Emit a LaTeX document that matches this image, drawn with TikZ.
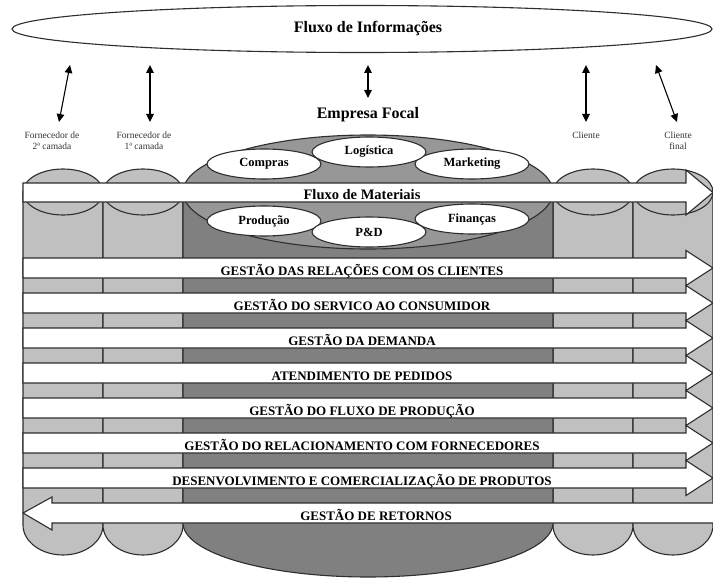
\documentclass[tikz,border=0pt]{standalone}
\usepackage{fontspec}
\setmainfont{Liberation Serif}
\usetikzlibrary{arrows.meta,shapes.geometric}
\definecolor{colgray}{HTML}{C0C0C0}
\definecolor{focalgray}{HTML}{808080}
\definecolor{capgray}{HTML}{979797}
\definecolor{edge}{HTML}{2E2E2E}

\begin{document}
\begin{tikzpicture}[x=1pt,y=-1pt,line width=1.1pt,
  cyl/.style={draw=edge,fill=colgray},
  focalcyl/.style={draw=edge,fill=focalgray},
  focalcap/.style={draw=edge,fill=capgray},
  band/.style={draw=edge,fill=white},
  bandtext/.style={anchor=base,font=\bfseries\fontsize{13}{15}\selectfont},
  area/.style={ellipse,draw=edge,fill=white,minimum width=114pt,minimum height=30pt,inner sep=0pt,font=\bfseries\fontsize{12.5}{14}\selectfont},
  tier/.style={align=center,text=black!80,font=\fontsize{9.5}{11}\selectfont},
  infoarrow/.style={{Triangle[length=8pt,width=7.5pt]}-{Triangle[length=8pt,width=7.5pt]},draw=black}]
\useasboundingbox (0,0) rectangle (713,578);

% fluxo de informacoes
\node[ellipse,draw=edge,fill=white,minimum width=700pt,minimum height=47pt,inner sep=0pt,
  font=\bfseries\fontsize{16}{18}\selectfont] (info) at (362,29) {\hspace*{12pt}Fluxo de Informações};

\coordinate (f2a) at (70,65);  \coordinate (f2b) at (59,122);
\coordinate (f1a) at (150,65); \coordinate (f1b) at (150,122);
\coordinate (ema) at (368,65); \coordinate (emb) at (368,98);
\coordinate (cla) at (586,65); \coordinate (clb) at (586,122);
\coordinate (cfa) at (656,65); \coordinate (cfb) at (677,122);
\foreach \a/\b in {f2a/f2b,f1a/f1b,ema/emb,cla/clb,cfa/cfb}
  \draw[infoarrow] (\a) -- (\b);

\node[tier] (forn2) at (52,140.5) {Fornecedor de\\2ª camada};
\node[tier] (forn1) at (144,140.5) {Fornecedor de\\1ª camada};
\node[tier] (cli) at (586,135) {Cliente};
\node[tier] (clifin) at (678,140.5) {Cliente\\final};
\node[font=\bfseries\fontsize{16}{18}\selectfont] (focal) at (368,115) {Empresa Focal};

% cilindros
\foreach \xa in {23,103,553,633}{
  \draw[cyl] (\xa,192) -- (\xa,525) arc[start angle=180,end angle=0,x radius=40,y radius=30] -- (\xa+80,192) -- cycle;
  \draw[cyl] (\xa+40,192) ellipse[x radius=40,y radius=23];
}
\draw[focalcyl] (183,192) -- (183,523) arc[start angle=180,end angle=0,x radius=185,y radius=54] -- (553,192) -- cycle;
\draw[focalcap] (368,192) ellipse[x radius=185,y radius=57];

\node[area] (compras) at (264,164) {Compras};
\node[area] (mkt) at (472,164) {Marketing};
\node[area] (log) at (369,152) {Logística};
\node[area] (prod) at (264,221) {Produção};
\node[area] (fin) at (472,219) {Finanças};
\node[area] (pd) at (369,232) {P\&D};

% setas de processos
\draw[band] (23,183) -- (686,183) -- (686,170) -- (713,192.5) -- (686,215) -- (686,202) -- (23,202) -- cycle;
\foreach \t in {258,293,...,468}
  \draw[band] (23,\t) -- (686,\t) -- (686,\t-7.5) -- (713,\t+10) -- (686,\t+27.5) -- (686,\t+20) -- (23,\t+20) -- cycle;
\draw[band] (713,503) -- (52,503) -- (52,497) -- (23,513) -- (52,530) -- (52,523) -- (713,523);

\node[bandtext,font=\bfseries\fontsize{14.5}{16}\selectfont] (mat) at (362,199) {Fluxo de Materiais};
\foreach \txt [count=\i from 0] in {GESTÃO DAS RELAÇÕES COM OS CLIENTES,GESTÃO DO SERVICO AO CONSUMIDOR,
    GESTÃO DA DEMANDA,ATENDIMENTO DE  PEDIDOS,GESTÃO DO FLUXO DE  PRODUÇÃO,
    GESTÃO DO RELACIONAMENTO COM  FORNECEDORES,DESENVOLVIMENTO E COMERCIALIZAÇÃO DE PRODUTOS}
  \node[bandtext] (proc\i) at (362,275+35*\i) {\txt};
\node[bandtext] (ret) at (376,520) {GESTÃO DE RETORNOS};
\end{tikzpicture}
\end{document}
